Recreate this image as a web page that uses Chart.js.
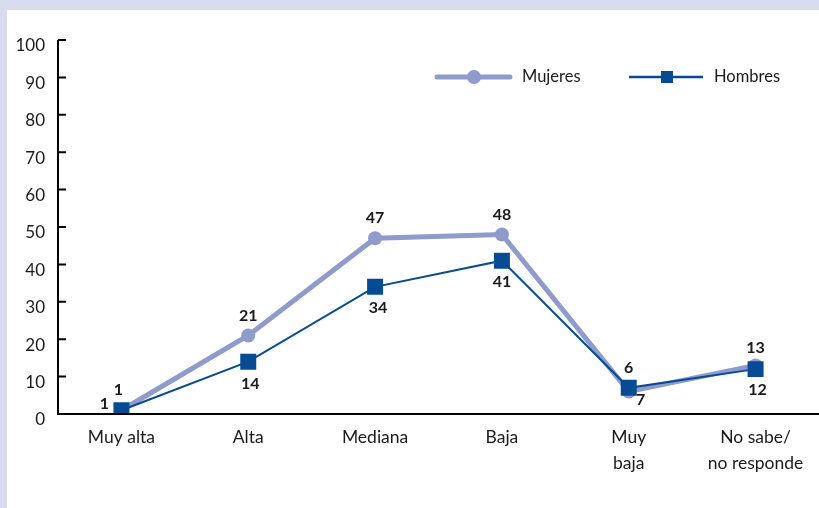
<!DOCTYPE html>
<html>
<head>
<meta charset="utf-8">
<script src="https://cdn.jsdelivr.net/npm/chart.js@4.4.1/dist/chart.umd.min.js"></script>
<style>
  html, body { margin: 0; padding: 0; background: #d9dbee; }
  #wrap { width: 819px; height: 508px; position: relative; }
  canvas { display: block; }
</style>
</head>
<body>
<div id="wrap"><canvas id="chart" width="819" height="508"></canvas></div>
<script>
const categories = ['Muy alta', 'Alta', 'Mediana', 'Baja', ['Muy', 'baja'], ['No sabe/', 'no responde']];
const mujeres = [1, 21, 47, 48, 6, 13];
const hombres = [1, 14, 34, 41, 7, 12];
const yTicks = [0, 10, 20, 30, 40, 50, 60, 70, 80, 90, 100];

const FONT = 'Lato, "DejaVu Sans", sans-serif';
const MUJ_COLOR = '#8e9bcb';
const HOM_COLOR = '#074b94';

// where each value label sits relative to its point [dx, dy]
const mujLabelPos = [[-3, -20], [0, -20], [0, -20], [0, -20], [0, -24], [0, -18]];
const homLabelPos = [[-17, -6], [2, 22], [3, 21], [0, 21], [12, 12], [2, 21]];

const framePlugin = {
  id: 'frame',
  beforeDraw(chart) {
    const { ctx, width, height } = chart;
    ctx.save();
    ctx.fillStyle = '#d9dbee';
    ctx.fillRect(0, 0, width, height);
    ctx.fillStyle = '#ffffff';
    ctx.fillRect(7, 10, width - 7, height - 10);
    ctx.restore();
  }
};

const axesPlugin = {
  id: 'axesTicks',
  afterDatasetsDraw(chart) {
    const { ctx, chartArea } = chart;
    const y = chart.scales.y;
    ctx.save();
    ctx.strokeStyle = '#000';
    ctx.lineWidth = 2;
    ctx.beginPath();
    ctx.moveTo(chartArea.left, y.getPixelForValue(100));
    ctx.lineTo(chartArea.left, chartArea.bottom);
    ctx.lineTo(chartArea.right, chartArea.bottom);
    yTicks.forEach(v => {
      if (v === 0) return;
      const py = y.getPixelForValue(v);
      ctx.moveTo(chartArea.left, py);
      ctx.lineTo(chartArea.left + 8, py);
    });
    ctx.stroke();
    ctx.restore();
  }
};

const labelsPlugin = {
  id: 'valueLabels',
  afterDraw(chart) {
    const { ctx } = chart;
    ctx.save();
    ctx.font = 'bold 16px ' + FONT;
    ctx.fillStyle = '#1a1a1a';
    ctx.textAlign = 'center';
    ctx.textBaseline = 'middle';
    [[0, mujeres, mujLabelPos], [1, hombres, homLabelPos]].forEach(([idx, vals, pos]) => {
      const meta = chart.getDatasetMeta(idx);
      meta.data.forEach((pt, i) => {
        ctx.fillText(String(vals[i]), pt.x + pos[i][0], pt.y + pos[i][1]);
      });
    });
    ctx.restore();
  }
};

const legendPlugin = {
  id: 'customLegend',
  afterDraw(chart) {
    const { ctx } = chart;
    const ly = 77;
    ctx.save();
    ctx.lineCap = 'round';
    ctx.strokeStyle = MUJ_COLOR;
    ctx.lineWidth = 5;
    ctx.beginPath();
    ctx.moveTo(437, ly);
    ctx.lineTo(510, ly);
    ctx.stroke();
    ctx.fillStyle = MUJ_COLOR;
    ctx.beginPath();
    ctx.arc(474, ly, 7, 0, Math.PI * 2);
    ctx.fill();

    ctx.lineCap = 'butt';
    ctx.strokeStyle = HOM_COLOR;
    ctx.lineWidth = 2.5;
    ctx.beginPath();
    ctx.moveTo(629, ly);
    ctx.lineTo(703, ly);
    ctx.stroke();
    ctx.fillStyle = HOM_COLOR;
    ctx.fillRect(661, ly - 6, 12, 12);

    ctx.fillStyle = '#1a1a1a';
    ctx.font = '16.5px ' + FONT;
    ctx.textBaseline = 'middle';
    ctx.textAlign = 'left';
    ctx.fillText('Mujeres', 522, ly);
    ctx.fillText('Hombres', 714, ly);
    ctx.restore();
  }
};

new Chart(document.getElementById('chart'), {
  type: 'line',
  data: {
    labels: categories,
    datasets: [
      {
        label: 'Mujeres',
        data: mujeres,
        borderColor: MUJ_COLOR,
        backgroundColor: MUJ_COLOR,
        borderWidth: 5,
        pointStyle: 'circle',
        pointRadius: 7,
        pointBorderWidth: 0,
        tension: 0,
        order: 2
      },
      {
        label: 'Hombres',
        data: hombres,
        borderColor: HOM_COLOR,
        backgroundColor: HOM_COLOR,
        borderWidth: 2,
        pointStyle: 'rect',
        pointRadius: 11.3,
        pointBorderWidth: 0,
        tension: 0,
        order: 1
      }
    ]
  },
  options: {
    responsive: false,
    animation: false,
    devicePixelRatio: 1,
    layout: { autoPadding: false, padding: { top: 40, right: 0, left: 0, bottom: 0 } },
    plugins: {
      legend: { display: false },
      tooltip: { enabled: false }
    },
    scales: {
      x: {
        offset: true,
        grid: { display: false, drawTicks: false },
        border: { display: false },
        ticks: {
          color: '#1a1a1a',
          font: { family: FONT, size: 17.5, lineHeight: 1.5 },
          padding: 10,
          maxRotation: 0,
          autoSkip: false
        },
        afterFit(scale) {
          scale.height = 94;
          scale.paddingLeft = 0;
          scale.paddingRight = 0;
        }
      },
      y: {
        min: 0,
        max: 100,
        grid: { display: false, drawTicks: false },
        border: { display: false },
        ticks: {
          stepSize: 10,
          color: '#1a1a1a',
          font: { family: FONT, size: 17 },
          padding: 13,
          labelOffset: 6
        },
        afterFit(scale) {
          scale.width = 58;
          scale.paddingTop = 0;
          scale.paddingBottom = 0;
        }
      }
    }
  },
  plugins: [framePlugin, axesPlugin, labelsPlugin, legendPlugin]
});
</script>
</body>
</html>
